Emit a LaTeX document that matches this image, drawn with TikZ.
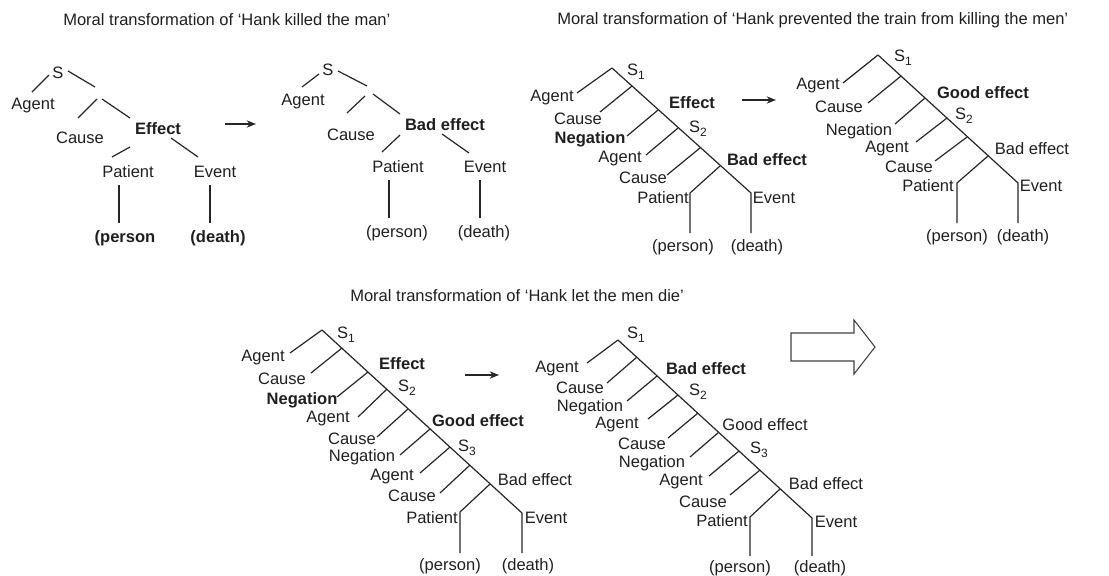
\documentclass[tikz,border=0pt]{standalone}
\usepackage{fontspec}
\setmainfont{Liberation Sans}
\usetikzlibrary{arrows.meta}
\newcommand{\Sx}[1]{S\raisebox{-0.5ex}{\fontsize{9}{10}\selectfont #1}}
\begin{document}
\begin{tikzpicture}[x=0.75pt,y=-0.75pt,
  lbl/.style={inner sep=0pt, text=black!88, font=\fontsize{12.4}{14}\selectfont},
  blbl/.style={inner sep=0pt, text=black!88, font=\fontsize{12.4}{14}\selectfont\bfseries},
  ttl/.style={inner sep=0pt, text=black!88, anchor=west, font=\fontsize{12.4}{14}\selectfont},
  edge/.style={draw=black!85, line width=0.9pt, line join=round},
  tarrow/.style={draw=black!85, line width=0.9pt, -{Stealth[length=7pt,width=5.5pt]}},
  bigarrow/.style={draw=black!75, line width=0.8pt, line join=miter}]
\useasboundingbox (0,0) rectangle (1109,575);

% titles
\node[ttl] (title1) at (63,20) {Moral transformation of ‘Hank killed the man’};
\node[ttl] (title2) at (557,20) {Moral transformation of ‘Hank prevented the train from killing the men’};
\node[ttl] (title3) at (350,296) {Moral transformation of ‘Hank let the men die’};

% ---------------- Tree 1 ----------------
\node[lbl] (t1s) at (58,73) {S};
\node[lbl] (t1agent) at (33,106) {Agent};
\node[lbl] (t1cause) at (80,138) {Cause};
\node[blbl] (t1effect) at (158,129) {Effect};
\node[lbl] (t1patient) at (128,172) {Patient};
\node[lbl] (t1event) at (215,172) {Event};
\node[blbl] (t1person) at (125,238) {(person};
\node[blbl] (t1death) at (218,238) {(death)};
\coordinate (t1a0) at (49,75); \coordinate (t1a1) at (32,92);
\coordinate (t1b0) at (68,71); \coordinate (t1b1) at (95,87);
\coordinate (t1c0) at (97,99); \coordinate (t1c1) at (78,118);
\coordinate (t1d0) at (102,99); \coordinate (t1d1) at (130,118);
\coordinate (t1e0) at (130,147); \coordinate (t1e1) at (112,157);
\coordinate (t1f0) at (171,138); \coordinate (t1f1) at (198,157);
\coordinate (t1g0) at (119,185); \coordinate (t1g1) at (119,223);
\coordinate (t1h0) at (210,185); \coordinate (t1h1) at (210,223);
\draw[edge] (t1a0) -- (t1a1);
\draw[edge] (t1b0) -- (t1b1);
\draw[edge] (t1c0) -- (t1c1);
\draw[edge] (t1d0) -- (t1d1);
\draw[edge] (t1e0) -- (t1e1);
\draw[edge] (t1f0) -- (t1f1);
\draw[edge] (t1g0) -- (t1g1);
\draw[edge] (t1h0) -- (t1h1);
\coordinate (t1r0) at (225,124); \coordinate (t1r1) at (256,124);
\draw[tarrow] (t1r0) -- (t1r1);

% ---------------- Tree 2 ----------------
\node[lbl] (t2s) at (328,70) {S};
\node[lbl] (t2agent) at (303,102) {Agent};
\node[lbl] (t2cause) at (351,135) {Cause};
\node[blbl] (t2effect) at (445,125) {Bad effect};
\node[lbl] (t2patient) at (398,167) {Patient};
\node[lbl] (t2event) at (485,167) {Event};
\node[lbl] (t2person) at (397,233) {(person)};
\node[lbl] (t2death) at (484,233) {(death)};
\coordinate (t2a0) at (319,74); \coordinate (t2a1) at (302,87);
\coordinate (t2b0) at (338,71); \coordinate (t2b1) at (367,86);
\coordinate (t2c0) at (365,96); \coordinate (t2c1) at (347,113);
\coordinate (t2d0) at (373,94); \coordinate (t2d1) at (400,114);
\coordinate (t2e0) at (400,135); \coordinate (t2e1) at (382,152);
\coordinate (t2f0) at (442,134); \coordinate (t2f1) at (469,153);
\coordinate (t2g0) at (389,180); \coordinate (t2g1) at (389,218);
\coordinate (t2h0) at (480,180); \coordinate (t2h1) at (480,218);
\draw[edge] (t2a0) -- (t2a1);
\draw[edge] (t2b0) -- (t2b1);
\draw[edge] (t2c0) -- (t2c1);
\draw[edge] (t2d0) -- (t2d1);
\draw[edge] (t2e0) -- (t2e1);
\draw[edge] (t2f0) -- (t2f1);
\draw[edge] (t2g0) -- (t2g1);
\draw[edge] (t2h0) -- (t2h1);

% ---------------- Tree 3 ----------------
\node[lbl] (t3s1) at (636,72) {\Sx{1}};
\node[lbl] (t3agent1) at (552,98) {Agent};
\node[lbl] (t3cause1) at (578,119) {Cause};
\node[blbl] (t3neg) at (590,139) {Negation};
\node[blbl] (t3effect) at (692,103) {Effect};
\node[lbl] (t3s2) at (698,129) {\Sx{2}};
\node[lbl] (t3agent2) at (620,159) {Agent};
\node[lbl] (t3cause2) at (643,178) {Cause};
\node[blbl] (t3bad) at (767,160) {Bad effect};
\node[lbl] (t3patient) at (663,198) {Patient};
\node[lbl] (t3event) at (774,198) {Event};
\node[lbl] (t3person) at (683,247) {(person)};
\node[lbl] (t3death) at (757,247) {(death)};
\coordinate (t3p) at (612,68); \coordinate (t3l) at (577,93);
\coordinate (t3d) at (751,193); \coordinate (t3dv) at (751,233);
\coordinate (t3b1) at (632,86);  \coordinate (t3e1) at (600,112);
\coordinate (t3b2) at (658,110); \coordinate (t3e2) at (627,136);
\coordinate (t3b3) at (678,128); \coordinate (t3e3) at (646,155);
\coordinate (t3b4) at (700,148); \coordinate (t3e4) at (667,175);
\coordinate (t3b5) at (720,166); \coordinate (t3e5) at (690,193);
\coordinate (t3e5v) at (690,233);
\draw[edge] (t3l) -- (t3p) -- (t3d) -- (t3dv);
\draw[edge] (t3b1) -- (t3e1);
\draw[edge] (t3b2) -- (t3e2);
\draw[edge] (t3b3) -- (t3e3);
\draw[edge] (t3b4) -- (t3e4);
\draw[edge] (t3b5) -- (t3e5) -- (t3e5v);
\coordinate (t3r0) at (742,100); \coordinate (t3r1) at (776,100);
\draw[tarrow] (t3r0) -- (t3r1);

% ---------------- Tree 4 ----------------
\node[lbl] (t4s1) at (903,58) {\Sx{1}};
\node[lbl] (t4agent1) at (818,86) {Agent};
\node[lbl] (t4cause1) at (839,107) {Cause};
\node[lbl] (t4neg) at (859,131) {Negation};
\node[blbl] (t4good) at (983,93) {Good effect};
\node[lbl] (t4s2) at (964,116) {\Sx{2}};
\node[lbl] (t4agent2) at (887,149) {Agent};
\node[lbl] (t4cause2) at (909,167) {Cause};
\node[lbl] (t4bad) at (1032,149) {Bad effect};
\node[lbl] (t4patient) at (928,186) {Patient};
\node[lbl] (t4event) at (1041,186) {Event};
\node[lbl] (t4person) at (957,237) {(person)};
\node[lbl] (t4death) at (1023,237) {(death)};
\coordinate (t4p) at (878,55); \coordinate (t4l) at (843,83);
\coordinate (t4d) at (1018,183); \coordinate (t4dv) at (1018,223);
\coordinate (t4b1) at (901,76);  \coordinate (t4e1) at (868,103);
\coordinate (t4b2) at (925,98);  \coordinate (t4e2) at (895,124);
\coordinate (t4b3) at (947,118); \coordinate (t4e3) at (916,142);
\coordinate (t4b4) at (967,137); \coordinate (t4e4) at (935,161);
\coordinate (t4b5) at (988,156); \coordinate (t4e5) at (957,183);
\coordinate (t4e5v) at (957,223);
\draw[edge] (t4l) -- (t4p) -- (t4d) -- (t4dv);
\draw[edge] (t4b1) -- (t4e1);
\draw[edge] (t4b2) -- (t4e2);
\draw[edge] (t4b3) -- (t4e3);
\draw[edge] (t4b4) -- (t4e4);
\draw[edge] (t4b5) -- (t4e5) -- (t4e5v);

% ---------------- Tree 5 ----------------
\node[lbl] (t5s1) at (346,335) {\Sx{1}};
\node[lbl] (t5agent1) at (263,358) {Agent};
\node[lbl] (t5cause1) at (282,379) {Cause};
\node[blbl] (t5neg1) at (302,400) {Negation};
\node[blbl] (t5effect) at (402,364) {Effect};
\node[lbl] (t5s2) at (407,388) {\Sx{2}};
\node[lbl] (t5agent2) at (328,419) {Agent};
\node[lbl] (t5cause2) at (352,439) {Cause};
\node[lbl] (t5neg2) at (362,457) {Negation};
\node[blbl] (t5good) at (478,421) {Good effect};
\node[lbl] (t5s3) at (467,448) {\Sx{3}};
\node[lbl] (t5agent3) at (392,477) {Agent};
\node[lbl] (t5cause3) at (412,496) {Cause};
\node[lbl] (t5bad) at (535,480) {Bad effect};
\node[lbl] (t5patient) at (432,518) {Patient};
\node[lbl] (t5event) at (546,518) {Event};
\node[lbl] (t5person) at (450,566) {(person)};
\node[lbl] (t5death) at (528,566) {(death)};
\coordinate (t5p) at (322,330); \coordinate (t5l) at (290,353);
\coordinate (t5d) at (522,513); \coordinate (t5dv) at (522,553);
\coordinate (t5b1) at (342,348); \coordinate (t5e1) at (311,373);
\coordinate (t5b2) at (368,372); \coordinate (t5e2) at (337,397);
\coordinate (t5b3) at (387,389); \coordinate (t5e3) at (358,417);
\coordinate (t5b4) at (408,409); \coordinate (t5e4) at (377,437);
\coordinate (t5b5) at (430,429); \coordinate (t5e5) at (400,455);
\coordinate (t5b6) at (450,447); \coordinate (t5e6) at (420,473);
\coordinate (t5b7) at (470,465); \coordinate (t5e7) at (440,493);
\coordinate (t5b8) at (490,484); \coordinate (t5e8) at (460,512);
\coordinate (t5e8v) at (460,553);
\draw[edge] (t5l) -- (t5p) -- (t5d) -- (t5dv);
\draw[edge] (t5b1) -- (t5e1);
\draw[edge] (t5b2) -- (t5e2);
\draw[edge] (t5b3) -- (t5e3);
\draw[edge] (t5b4) -- (t5e4);
\draw[edge] (t5b5) -- (t5e5);
\draw[edge] (t5b6) -- (t5e6);
\draw[edge] (t5b7) -- (t5e7);
\draw[edge] (t5b8) -- (t5e8) -- (t5e8v);
\coordinate (t5r0) at (465,375); \coordinate (t5r1) at (499,375);
\draw[tarrow] (t5r0) -- (t5r1);

% ---------------- Tree 6 ----------------
\node[lbl] (t6s1) at (636,335) {\Sx{1}};
\node[lbl] (t6agent1) at (557,369) {Agent};
\node[lbl] (t6cause1) at (580,388) {Cause};
\node[lbl] (t6neg1) at (590,407) {Negation};
\node[blbl] (t6bad1) at (706,369) {Bad effect};
\node[lbl] (t6s2) at (698,392) {\Sx{2}};
\node[lbl] (t6agent2) at (617,425) {Agent};
\node[lbl] (t6cause2) at (642,444) {Cause};
\node[lbl] (t6neg2) at (652,463) {Negation};
\node[lbl] (t6good) at (765,425) {Good effect};
\node[lbl] (t6s3) at (759,450) {\Sx{3}};
\node[lbl] (t6agent3) at (681,482) {Agent};
\node[lbl] (t6cause3) at (703,502) {Cause};
\node[lbl] (t6bad2) at (826,484) {Bad effect};
\node[lbl] (t6patient) at (722,521) {Patient};
\node[lbl] (t6event) at (836,522) {Event};
\node[lbl] (t6person) at (740,568) {(person)};
\node[lbl] (t6death) at (820,568) {(death)};
\coordinate (t6p) at (618,340); \coordinate (t6l) at (587,363);
\coordinate (t6d) at (812,518); \coordinate (t6dv) at (812,556);
\coordinate (t6b1) at (637,357); \coordinate (t6e1) at (607,383);
\coordinate (t6b2) at (657,376); \coordinate (t6e2) at (627,401);
\coordinate (t6b3) at (678,395); \coordinate (t6e3) at (648,419);
\coordinate (t6b4) at (698,413); \coordinate (t6e4) at (668,438);
\coordinate (t6b5) at (719,432); \coordinate (t6e5) at (690,457);
\coordinate (t6b6) at (739,451); \coordinate (t6e6) at (709,476);
\coordinate (t6b7) at (760,470); \coordinate (t6e7) at (730,495);
\coordinate (t6b8) at (780,489); \coordinate (t6e8) at (750,517);
\coordinate (t6e8v) at (750,556);
\draw[edge] (t6l) -- (t6p) -- (t6d) -- (t6dv);
\draw[edge] (t6b1) -- (t6e1);
\draw[edge] (t6b2) -- (t6e2);
\draw[edge] (t6b3) -- (t6e3);
\draw[edge] (t6b4) -- (t6e4);
\draw[edge] (t6b5) -- (t6e5);
\draw[edge] (t6b6) -- (t6e6);
\draw[edge] (t6b7) -- (t6e7);
\draw[edge] (t6b8) -- (t6e8) -- (t6e8v);

% ---------------- Big hollow arrow ----------------
\coordinate (ba1) at (791,333); \coordinate (ba2) at (854,333);
\coordinate (ba3) at (854,320); \coordinate (ba4) at (875,347);
\coordinate (ba5) at (854,374); \coordinate (ba6) at (854,361);
\coordinate (ba7) at (791,361);
\draw[bigarrow] (ba1) -- (ba2) -- (ba3) -- (ba4) -- (ba5) -- (ba6) -- (ba7) -- cycle;
\end{tikzpicture}
\end{document}
